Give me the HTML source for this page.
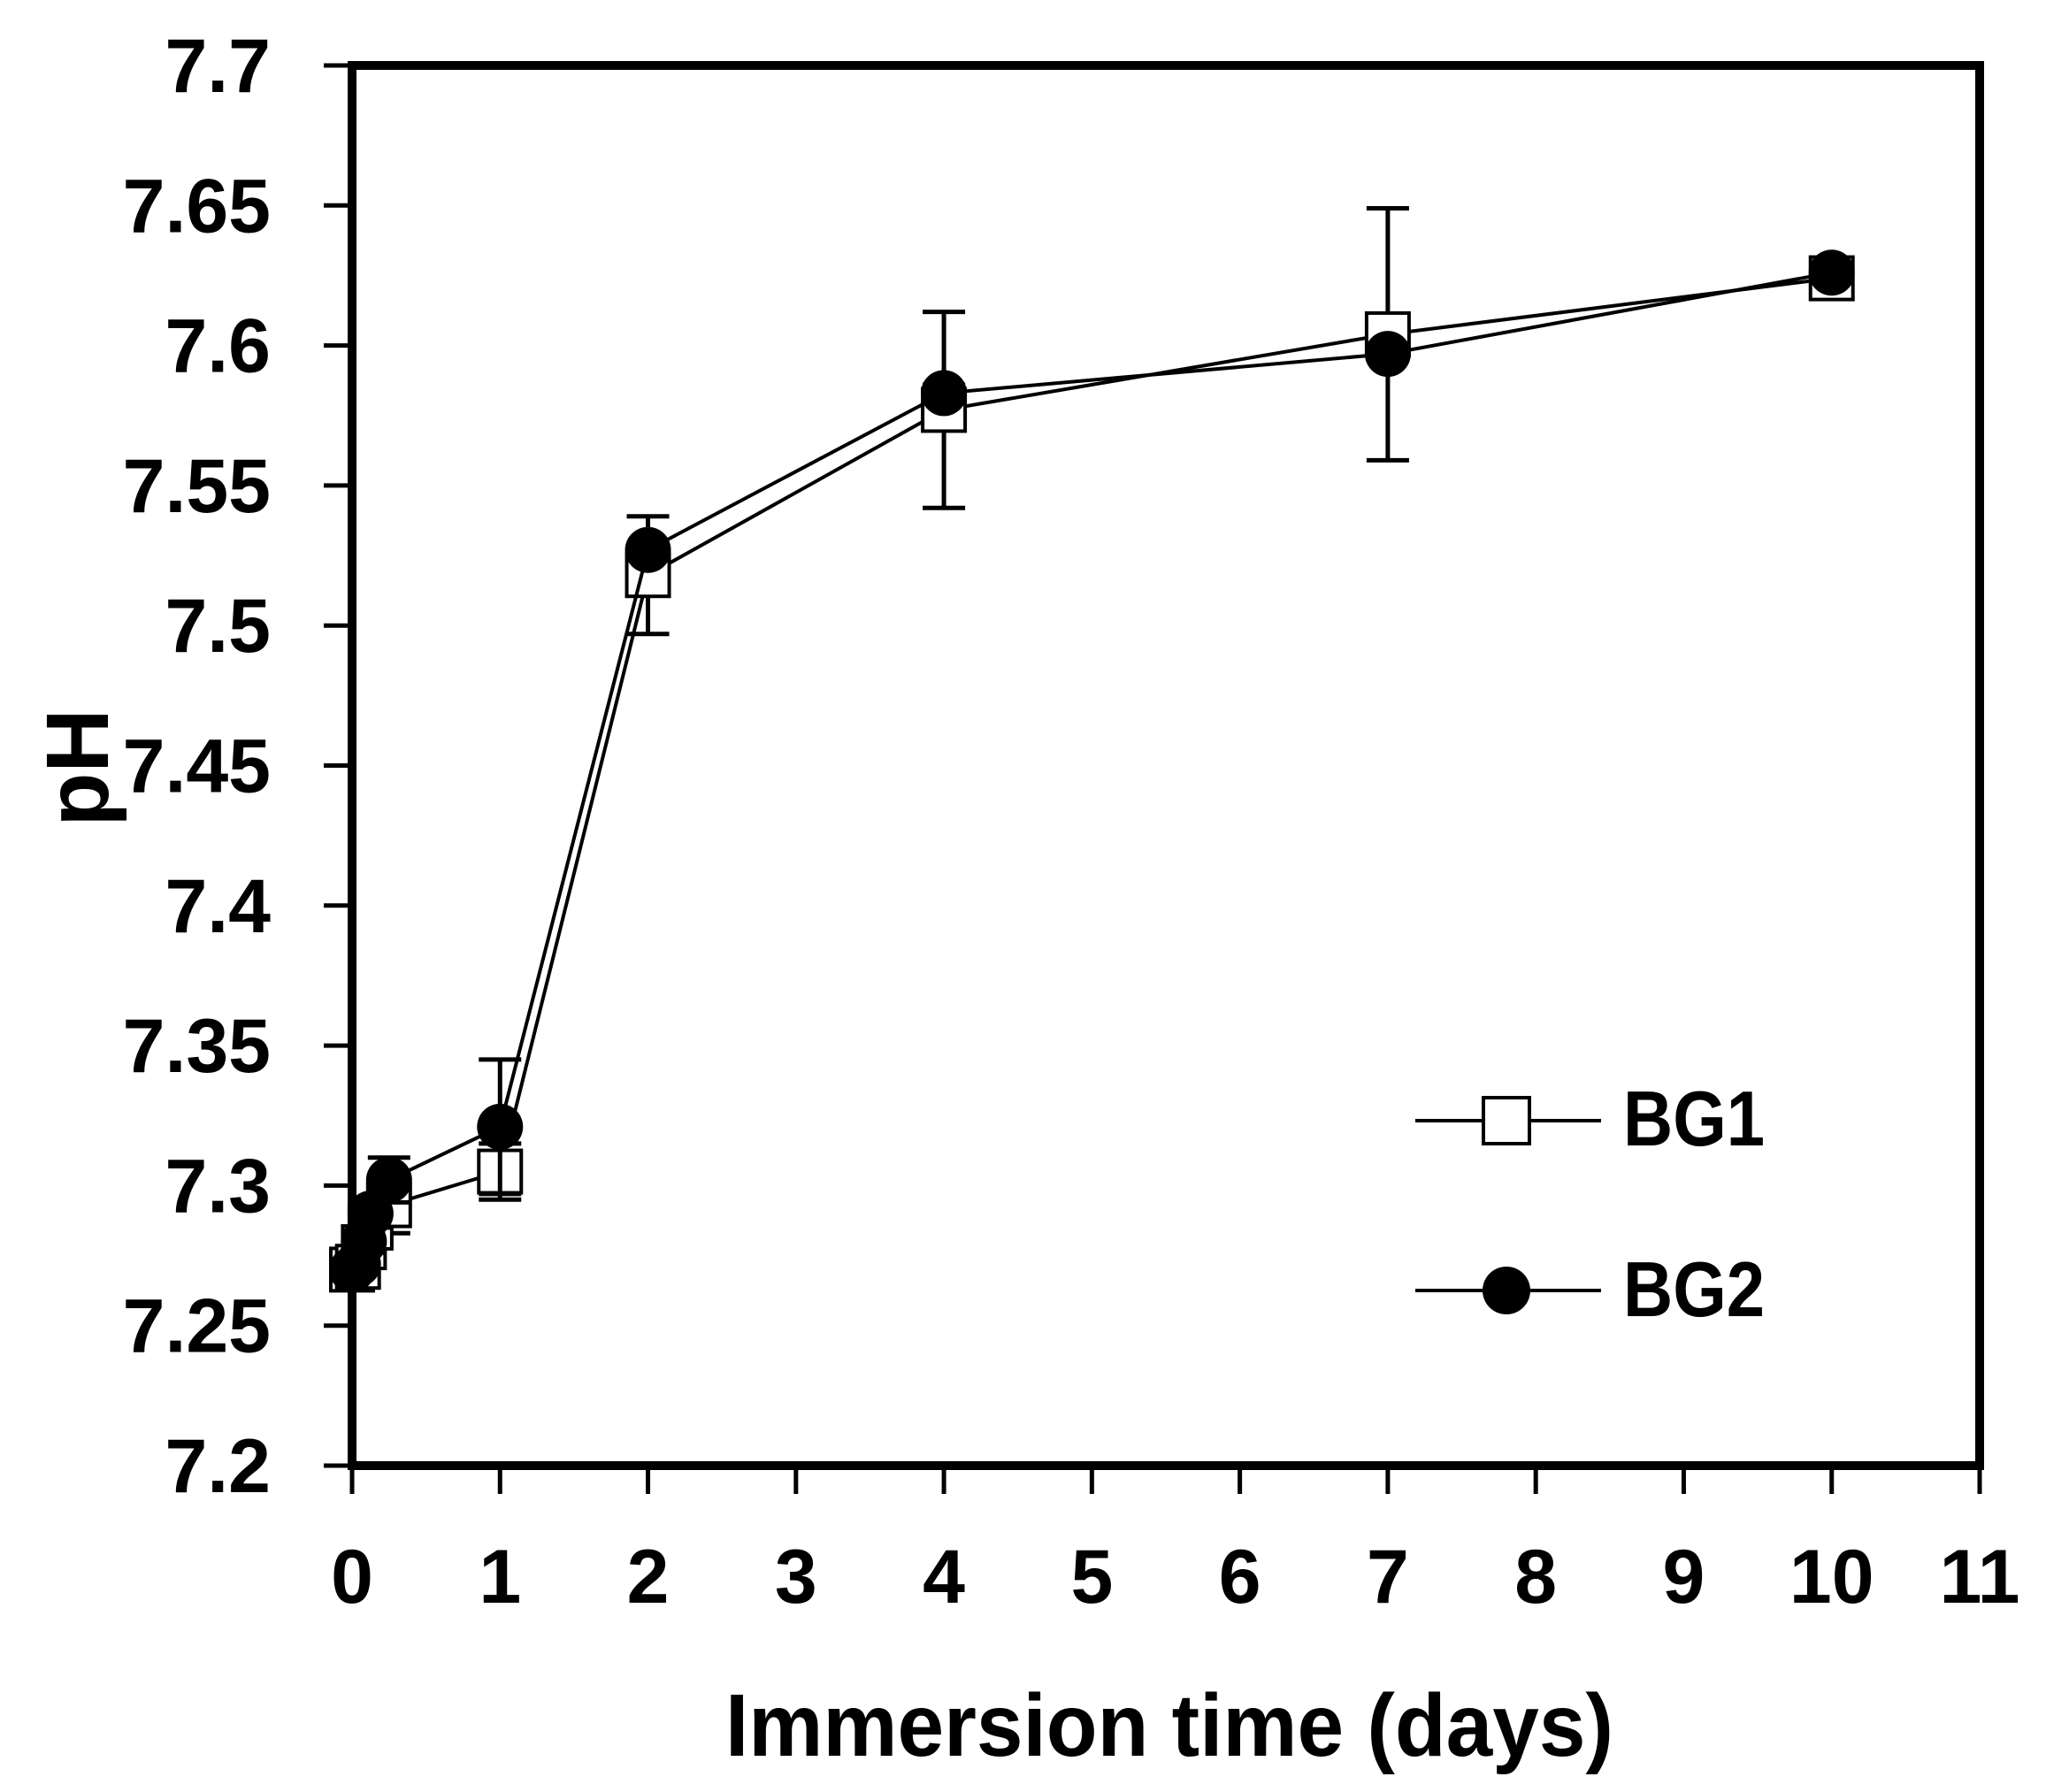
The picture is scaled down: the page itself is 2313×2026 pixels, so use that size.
<!DOCTYPE html>
<html><head><meta charset="utf-8"><style>
html,body{margin:0;padding:0;background:#fff;}
svg{display:block;}
text{font-family:"Liberation Sans",sans-serif;font-weight:bold;fill:#000;}
</style></head><body>
<svg id="chart" width="2313" height="2026" viewBox="0 0 2313 2026" xmlns="http://www.w3.org/2000/svg"></svg>
<script>
const days = [0, 0.04, 0.08, 0.125, 0.25, 1, 2, 4, 7, 10];
const bg1 = [7.270, 7.271, 7.278, 7.285, 7.293, 7.305, 7.518, 7.577, 7.604, 7.624];
const bg1Err = [0.003, 0.003, 0.004, 0.005, 0.010, 0.010, 0.021, 0.035, 0.045, 0.002];
const bg2 = [7.270, 7.272, 7.280, 7.290, 7.302, 7.321, 7.527, 7.583, 7.597, 7.626];
const bg2Err = [0.003, 0.003, 0.004, 0.005, 0.008, 0.024, 0.002, 0.003, 0.002, 0.002];
const xTicks = [0,1,2,3,4,5,6,7,8,9,10,11];
const yTicks = [7.2,7.25,7.3,7.35,7.4,7.45,7.5,7.55,7.6,7.65,7.7];
const yTickLabels = ["7.2","7.25","7.3","7.35","7.4","7.45","7.5","7.55","7.6","7.65","7.7"];

const L=398,R=2238,T=74,B=1657;
const X=v=>L+(v-0)/(11-0)*(R-L);
const Y=v=>B-(v-7.2)/(0.5)*(B-T);
const svg=document.getElementById('chart');
const NS='http://www.w3.org/2000/svg';
function mk(tag,at,parent){const e=document.createElementNS(NS,tag);for(const k in at)e.setAttribute(k,at[k]);(parent||svg).appendChild(e);return e;}

let fr=mk('rect',{x:L,y:T,width:R-L,height:B-T,fill:'none',stroke:'#000','stroke-width':10});



yTicks.forEach((v,i)=>{
  let t=mk('line',{x1:L-32,x2:L,y1:Y(v),y2:Y(v),stroke:'#000','stroke-width':5});
  
  
  let tx=mk('text',{x:306,y:Y(v)+30,'text-anchor':'end','font-size':86});
  tx.textContent=yTickLabels[i];
  
  
});
xTicks.forEach(v=>{
  let t=mk('line',{x1:X(v),x2:X(v),y1:B,y2:B+32,stroke:'#000','stroke-width':5});
  
  
  let tx=mk('text',{x:X(v),y:1812,'text-anchor':'middle','font-size':86});
  tx.textContent=String(v);
  
  
});
let xt=mk('text',{x:1322,y:1985,'text-anchor':'middle','font-size':100,textLength:1004,lengthAdjust:'spacingAndGlyphs'});
xt.textContent='Immersion time (days)';


let yt=mk('text',{x:0,y:0,'text-anchor':'middle','font-size':100,transform:'translate(122,868) rotate(-90)'});
yt.textContent='pH';



function series(vals,errs,name,marker){
  const g=mk('g',{});
  
  
  vals.forEach((v,i)=>{
    const x=X(days[i]),e=errs[i];
    const eb=mk('path',{d:`M${x},${Y(v+e)}V${Y(v-e)}M${x-24},${Y(v+e)}H${x+24}M${x-24},${Y(v-e)}H${x+24}`,stroke:'#000','stroke-width':5,fill:'none'},g);
    
    
  });
  const pl=mk('polyline',{points:vals.map((v,i)=>X(days[i])+','+Y(v)).join(' '),fill:'none',stroke:'#000','stroke-width':4},g);
  
  
  vals.forEach((v,i)=>{
    const x=X(days[i]),y=Y(v);
    let m;
    if(marker==='square') m=mk('rect',{x:x-24,y:y-24,width:48,height:48,fill:'#fff',stroke:'#000','stroke-width':4},g);
    else m=mk('circle',{cx:x,cy:y,r:26,fill:'#000'},g);
    
    
  });
}
series(bg1,bg1Err,'bg1','square');
series(bg2,bg2Err,'bg2','circle');

const lg=mk('g',{});


let l1=mk('line',{x1:1600,x2:1810,y1:1267,y2:1267,stroke:'#000','stroke-width':4},lg);


let m1=mk('rect',{x:1677,y:1241,width:52,height:52,fill:'#fff',stroke:'#000','stroke-width':4},lg);


let t1=mk('text',{x:1835,y:1295,'font-size':88,textLength:160,lengthAdjust:'spacingAndGlyphs'},lg);
t1.textContent='BG1';


let l2=mk('line',{x1:1600,x2:1810,y1:1459,y2:1459,stroke:'#000','stroke-width':4},lg);


let m2=mk('circle',{cx:1703,cy:1459,r:27,fill:'#000'},lg);


let t2=mk('text',{x:1835,y:1488,'font-size':88,textLength:160,lengthAdjust:'spacingAndGlyphs'},lg);
t2.textContent='BG2';


</script>
</body></html>
